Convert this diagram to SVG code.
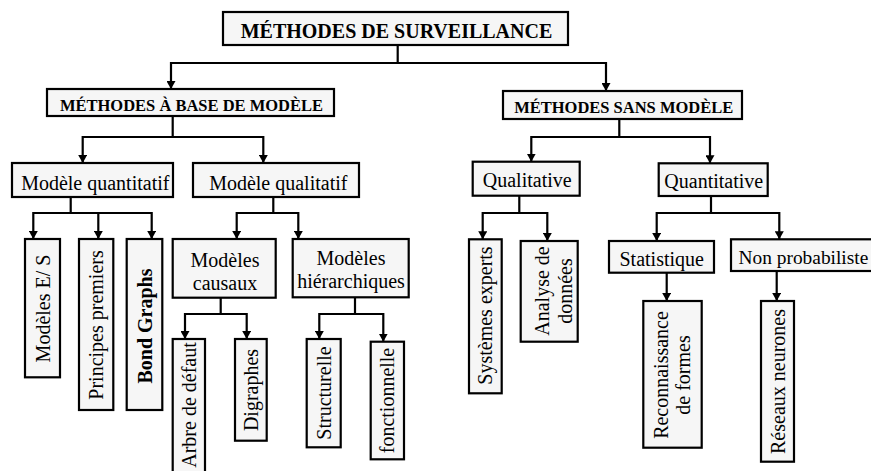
<svg xmlns="http://www.w3.org/2000/svg" width="871" height="471" viewBox="0 0 871 471">
<defs>
<style>
.box{fill:#f6f6f6;stroke:#000;stroke-width:2.2}
.t{font-family:"Liberation Serif","Times New Roman",serif;font-size:20px;fill:#000;text-anchor:middle}
.b{font-weight:bold}
.conn path{fill:none;stroke:#000;stroke-width:2.2}
</style>
<marker id="ah" markerUnits="userSpaceOnUse" markerWidth="8" markerHeight="9" refX="8" refY="4.5" orient="auto">
<path d="M0,0 L8,4.5 L0,9 z" fill="#000"/>
</marker>
</defs>
<rect width="871" height="471" fill="#fff"/>

<g class="conn">
<path d="M397.7,45 V63 H171 V89" marker-end="url(#ah)"/>
<path d="M397.7,63 H606 V91" marker-end="url(#ah)"/>
<path d="M172.7,116 V137 H82.7 V163" marker-end="url(#ah)"/>
<path d="M172.7,137 H263.3 V163" marker-end="url(#ah)"/>
<path d="M619.3,119 V137 H531.3 V161.7" marker-end="url(#ah)"/>
<path d="M619.3,137 H710 V163.3" marker-end="url(#ah)"/>
<path d="M70.7,197 V213 H33.3 V239" marker-end="url(#ah)"/>
<path d="M70.7,213 H151.7 V239" marker-end="url(#ah)"/>
<path d="M98.3,213 V239" marker-end="url(#ah)"/>
<path d="M273.3,197 V213 H236.7 V239" marker-end="url(#ah)"/>
<path d="M273.3,213 H298.3 V239" marker-end="url(#ah)"/>
<path d="M220.7,298 V314 H185 V339" marker-end="url(#ah)"/>
<path d="M220.7,314 H246.7 V339" marker-end="url(#ah)"/>
<path d="M355,297 V314 H319.3 V339" marker-end="url(#ah)"/>
<path d="M355,314 H383.3 V341.7" marker-end="url(#ah)"/>
<path d="M519.3,196 V213 H482.7 V239.3" marker-end="url(#ah)"/>
<path d="M519.3,213 H547.3 V241" marker-end="url(#ah)"/>
<path d="M711,196 V213 H656.7 V241" marker-end="url(#ah)"/>
<path d="M711,213 H779.3 V239.3" marker-end="url(#ah)"/>
<path d="M666.7,273 V301" marker-end="url(#ah)"/>
<path d="M776.7,271 V301" marker-end="url(#ah)"/>
</g>

<g id="n-surveillance">
<rect class="box" x="223" y="12" width="345" height="33"/>
<text class="t b" x="396.5" y="38">MÉTHODES DE SURVEILLANCE</text>
</g>
<g id="n-base-modele">
<rect class="box" x="47" y="89" width="287" height="27"/>
<text class="t b" x="191.5" y="111" style="font-size:16.5px">MÉTHODES À BASE DE MODÈLE</text>
</g>
<g id="n-sans-modele">
<rect class="box" x="503" y="91" width="239" height="28"/>
<text class="t b" x="623.7" y="112.7" style="font-size:16.5px">MÉTHODES SANS MODÈLE</text>
</g>
<g id="n-quantitatif">
<rect class="box" x="12" y="163" width="161" height="34"/>
<text class="t" x="95.3" y="189.5">Modèle quantitatif</text>
</g>
<g id="n-qualitatif">
<rect class="box" x="193" y="163" width="166" height="34"/>
<text class="t" x="278.3" y="189.5">Modèle qualitatif</text>
</g>
<g id="n-qualitative">
<rect class="box" x="472.7" y="161.7" width="107" height="34"/>
<text class="t" x="527.2" y="187">Qualitative</text>
</g>
<g id="n-quantitative">
<rect class="box" x="658.7" y="163.3" width="109" height="32.7"/>
<text class="t" x="713.8" y="188">Quantitative</text>
</g>
<g id="n-statistique">
<rect class="box" x="609" y="241" width="105" height="31.7"/>
<text class="t" x="661.7" y="265.5">Statistique</text>
</g>
<g id="n-non-probabiliste">
<rect class="box" x="731" y="239.3" width="150" height="31.7"/>
<text class="t" x="738.5" y="264" style="text-anchor:start;font-size:19.4px">Non probabiliste</text>
</g>
<g id="n-causaux">
<rect class="box" x="172.7" y="239" width="103" height="58.7"/>
<text class="t" x="225" y="266.5">Modèles</text>
<text class="t" x="225" y="290">causaux</text>
</g>
<g id="n-hierarchiques">
<rect class="box" x="292.7" y="239" width="116" height="58.3"/>
<text class="t" x="351" y="264.5">Modèles</text>
<text class="t" x="351" y="288">hiérarchiques</text>
</g>

<g id="n-es">
<rect class="box" x="25" y="239" width="35" height="138.3"/>
<text class="t" transform="translate(49.5,308.5) rotate(-90)">Modèles E/ S</text>
</g>
<g id="n-principes">
<rect class="box" x="79" y="239" width="34.3" height="171"/>
<text class="t" transform="translate(103,325) rotate(-90)">Principes premiers</text>
</g>
<g id="n-bond">
<rect class="box" x="126.7" y="239" width="35.6" height="171"/>
<text class="t b" transform="translate(151.5,326) rotate(-90)">Bond Graphs</text>
</g>
<g id="n-arbre">
<rect class="box" x="172.7" y="339" width="32.3" height="140"/>
<text class="t" transform="translate(196,405) rotate(-90)">Arbre de défaut</text>
</g>
<g id="n-digraphes">
<rect class="box" x="235" y="339" width="31.7" height="101.7"/>
<text class="t" transform="translate(258,390) rotate(-90)">Digraphes</text>
</g>
<g id="n-structurelle">
<rect class="box" x="306.7" y="339" width="34" height="108.3"/>
<text class="t" transform="translate(330.5,393) rotate(-90)">Structurelle</text>
</g>
<g id="n-fonctionnelle">
<rect class="box" x="370.7" y="341.7" width="33.3" height="117.6"/>
<text class="t" transform="translate(394,400.5) rotate(-90)">fonctionnelle</text>
</g>
<g id="n-systemes">
<rect class="box" x="469" y="239.3" width="32.7" height="154"/>
<text class="t" transform="translate(492,315.5) rotate(-90)">Systèmes experts</text>
</g>
<g id="n-analyse">
<rect class="box" x="520.7" y="241" width="57" height="100.7"/>
<text class="t" transform="translate(549,291) rotate(-90)">Analyse de</text>
<text class="t" transform="translate(571.5,291) rotate(-90)">données</text>
</g>
<g id="n-reconnaissance">
<rect class="box" x="643.3" y="301" width="58.4" height="146.7"/>
<text class="t" transform="translate(668.3,375) rotate(-90)">Reconnaissance</text>
<text class="t" transform="translate(690,375) rotate(-90)">de formes</text>
</g>
<g id="n-reseaux">
<rect class="box" x="761" y="301" width="33" height="160.7"/>
<text class="t" transform="translate(784.5,381.5) rotate(-90)">Réseaux neurones</text>
</g>
</svg>
